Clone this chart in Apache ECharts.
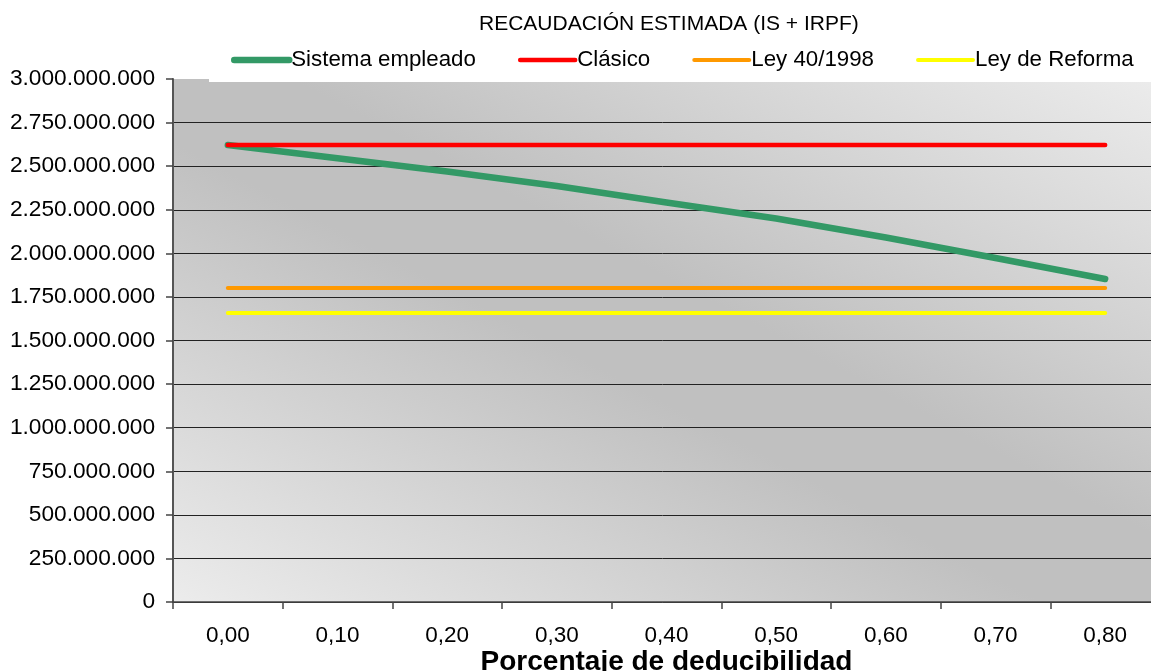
<!DOCTYPE html>
<html>
<head>
<meta charset="utf-8">
<script src="https://cdn.jsdelivr.net/npm/echarts@6/dist/echarts.min.js"></script>
<style>html,body{margin:0;padding:0;background:#fff;}#c{width:1151px;height:671px;}</style>
</head>
<body>
<div id="c"></div>
<script>
const categories = ['0,00','0,10','0,20','0,30','0,40','0,50','0,60','0,70','0,80'];
const sistemaEmpleado = [2621000000, 2545000000, 2469000000, 2386000000, 2292000000, 2200000000, 2091000000, 1973000000, 1853000000];
const clasico = [2621000000, 2621000000, 2621000000, 2621000000, 2621000000, 2621000000, 2621000000, 2621000000, 2621000000];
const ley40 = [1801000000, 1801000000, 1801000000, 1801000000, 1801000000, 1801000000, 1801000000, 1801000000, 1801000000];
const leyReforma = [1658000000, 1658000000, 1658000000, 1658000000, 1658000000, 1658000000, 1658000000, 1658000000, 1658000000];
const seriesNames = ['Sistema empleado', 'Clásico', 'Ley 40/1998', 'Ley de Reforma'];
const titleText = 'RECAUDACIÓN ESTIMADA (IS + IRPF)';
const xAxisName = 'Porcentaje de deducibilidad';

function fmt(v) {
  return String(Math.round(v)).replace(/\B(?=(\d{3})+(?!\d))/g, '.');
}
const FONT = '"Liberation Sans", Arial, sans-serif';
const colors = ['#339966', '#ff0000', '#ff9900', '#ffff00'];
const widths = [6.5, 4.5, 4, 4];
const chart = echarts.init(document.getElementById('c'), null, {renderer: 'canvas'});
const grad = {
  type: 'linear', x: 0.281, y: 1.281, x2: 0.719, y2: -0.281,
  colorStops: [
    {offset: 0, color: '#ececec'},
    {offset: 0.44, color: '#c0c0c0'},
    {offset: 0.56, color: '#c0c0c0'},
    {offset: 1, color: '#ececec'}
  ]
};
function mk(i, data) {
  return {
    name: seriesNames[i], type: 'line', data: data, symbol: 'none',
    lineStyle: {color: colors[i], width: widths[i], cap: 'round', join: 'round'},
    itemStyle: {color: colors[i]},
    emphasis: {disabled: true},
    animation: false
  };
}
chart.setOption({
  animation: false,
  backgroundColor: '#fff',
  title: {
    text: titleText, left: 474, top: 9,
    textStyle: {fontFamily: FONT, fontSize: 21, fontWeight: 'normal', color: '#000'}
  },
  legend: {
    left: 209, top: 45, width: 1000,
    padding: [4, 40, 11, 22],
    backgroundColor: '#fff',
    itemWidth: 55, itemHeight: 14, itemGap: 42,
    textStyle: {fontFamily: FONT, fontSize: 22.3, color: '#000', padding: [0, 0, 0, -3], lineHeight: 22},
    data: seriesNames.map(function (n, i) {
      return {
        name: n,
        itemStyle: {opacity: 0},
        lineStyle: {color: colors[i], width: widths[i], cap: 'round', opacity: 1}
      };
    }),
    z: 10
  },
  grid: {
    left: 173, right: -9, top: 79, bottom: 69,
    show: true, backgroundColor: grad, borderWidth: 0,
    outerBoundsMode: 'none', containLabel: false
  },
  xAxis: {
    type: 'category', data: categories, boundaryGap: true,
    name: xAxisName, nameLocation: 'middle', nameGap: 46, nameMoveOverlap: false,
    nameTextStyle: {fontFamily: FONT, fontSize: 28, fontWeight: 'bold', color: '#000'},
    axisLine: {show: true, lineStyle: {color: '#444', width: 1.5}},
    axisTick: {show: true, alignWithLabel: false, length: 7, lineStyle: {color: '#444', width: 1.5}},
    axisLabel: {fontFamily: FONT, fontSize: 22.5, color: '#000', margin: 22, interval: 0},
    splitLine: {show: false}
  },
  yAxis: {
    type: 'value', min: 0, max: 3000000000, interval: 250000000,
    axisLine: {show: true, lineStyle: {color: '#555', width: 2}},
    axisTick: {show: true, length: 7, lineStyle: {color: '#444', width: 1.5}},
    axisLabel: {fontFamily: FONT, fontSize: 22.7, color: '#000', margin: 18, formatter: fmt},
    splitLine: {show: true, showMaxLine: false, lineStyle: {color: '#222', width: 1}}
  },
  series: [
    mk(0, sistemaEmpleado),
    mk(1, clasico),
    mk(2, ley40),
    mk(3, leyReforma)
  ]
});
</script>
</body>
</html>
